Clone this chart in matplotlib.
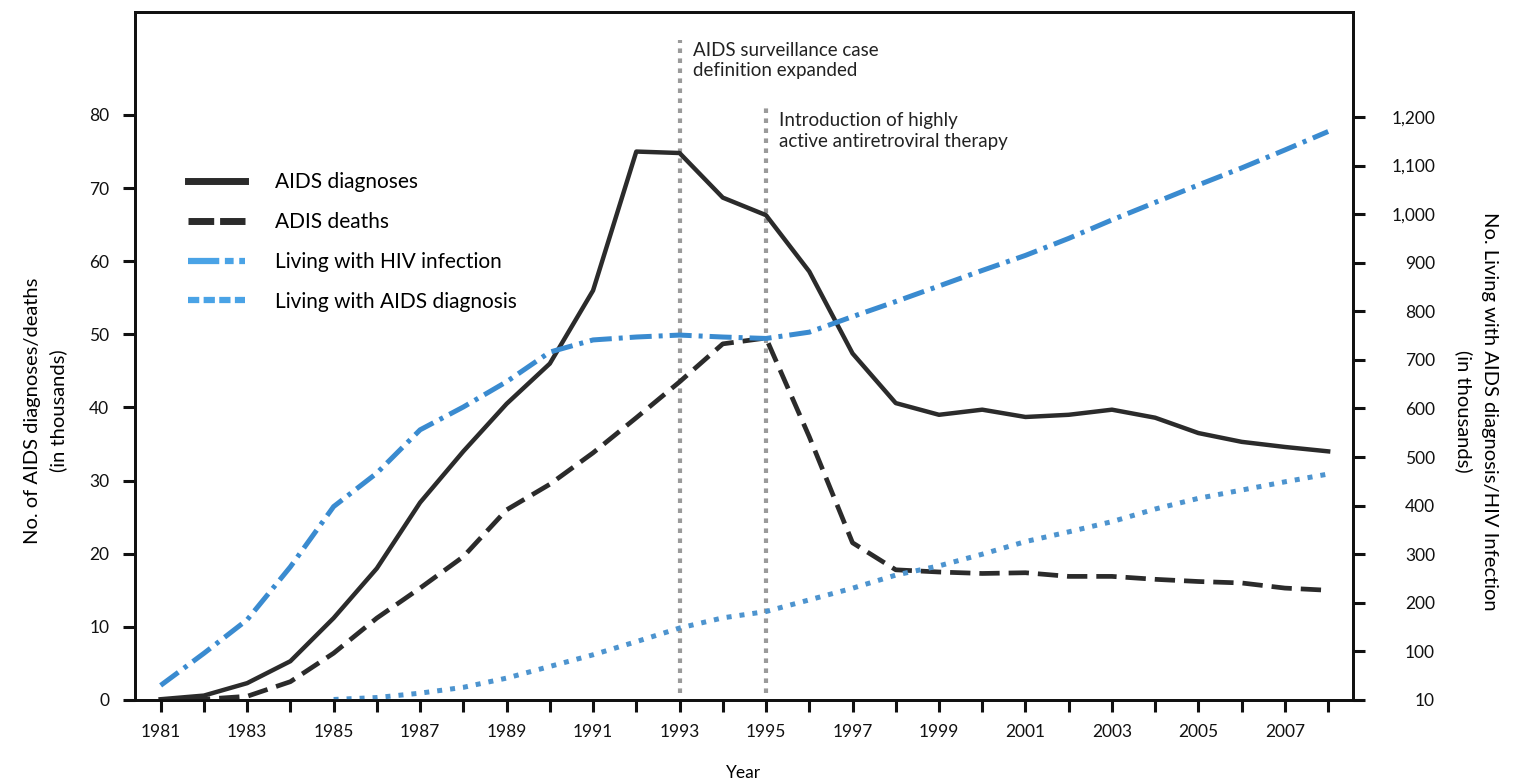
import matplotlib
matplotlib.use('Agg')
import matplotlib.pyplot as plt
from matplotlib.lines import Line2D
import numpy as np

plt.rcParams['font.family'] = ['Lato', 'DejaVu Sans']

YEARS = list(range(1981, 2009))

# left axis, thousands
aids_diagnoses = [0.1, 0.6, 2.3, 5.3, 11.2, 18.0, 27.0, 34.0, 40.5, 46.0, 56.0, 75.0, 74.8, 68.7,
                  66.3, 58.6, 47.4, 40.6, 39.0, 39.7, 38.7, 39.0, 39.7, 38.6, 36.5, 35.3, 34.6, 34.0]
aids_deaths = [0.0, 0.1, 0.5, 2.5, 6.4, 11.2, 15.3, 19.6, 26.0, 29.5, 33.8, 38.6, 43.5, 48.7,
               49.5, 36.0, 21.5, 17.8, 17.5, 17.3, 17.4, 16.9, 16.9, 16.5, 16.2, 16.0, 15.3, 15.0]

# right axis, thousands
living_hiv = [30, 96, 165, 274, 398, 467, 556, 603, 655, 716, 741, 747, 751, 747,
              744, 757, 789, 820, 852, 884, 915, 950, 988, 1024, 1060, 1095, 1132, 1170]
living_aids = [np.nan, np.nan, np.nan, np.nan, 1, 5, 14, 26, 45, 69, 93, 120, 148, 169,
               182, 206, 230, 257, 276, 300, 326, 346, 367, 393, 415, 432, 449, 465]

LEFT_TICKS = [0, 10, 20, 30, 40, 50, 60, 70, 80]
RIGHT_TICKS = [0, 100, 200, 300, 400, 500, 600, 700, 800, 900, 1000, 1100, 1200]
RIGHT_TICK_LABELS = ['10', '100', '200', '300', '400', '500', '600', '700', '800', '900',
                     '1,000', '1,100', '1,200']

EVENT_YEARS = [1993, 1995]
EVENT_TOPS = [90.3, 81.0]
EVENT_TEXT = ['AIDS surveillance case\ndefinition expanded',
              'Introduction of highly\nactive antiretroviral therapy']
EVENT_TEXT_Y = [90.0, 80.4]

BLACK = '#2b2b2b'
BLUE = '#3a8bd0'
BLUE_DOT = '#4d94cf'

fig = plt.figure(figsize=(15.25, 7.82), dpi=100)
ax = fig.add_axes([0.0885, 0.1049, 0.7987, 0.8798])
ax2 = ax.twinx()

ax.vlines(EVENT_YEARS, 1, EVENT_TOPS, colors='#9a9a9a', linewidth=3.0,
          linestyles=[(0, (1.1, 1.3))])
for x, y, txt in zip(EVENT_YEARS, EVENT_TEXT_Y, EVENT_TEXT):
    ax.text(x + 0.3, y, txt, ha='left', va='top', fontsize=13.5, color='#222222',
            linespacing=1.25)

ax.plot(YEARS, aids_diagnoses, color=BLACK, lw=3.2, zorder=3)
ax.plot(YEARS, aids_deaths, color=BLACK, lw=3.4, linestyle=(0, (4.3, 1.9)), zorder=3)
ax2.plot(YEARS, living_hiv, color=BLUE, lw=3.6, linestyle=(0, (4.4, 1.4, 0.8, 1.4)))
ax2.plot(YEARS, living_aids, color=BLUE_DOT, lw=3.6, linestyle=(0, (1.0, 1.6)))

ax.set_xlim(1980.406, 2008.574)
ax.set_ylim(0, 94.09)
ax2.set_ylim(0, 1416)

ax.set_xticks(YEARS)
ax.set_xticklabels([str(y) if y % 2 == 1 else '' for y in YEARS])
ax.set_yticks(LEFT_TICKS)
ax2.set_yticks(RIGHT_TICKS)
ax2.set_yticklabels(RIGHT_TICK_LABELS)

ax.tick_params(axis='x', length=8.6, width=2.2, labelsize=12.5, pad=9, colors='#111111')
ax.tick_params(axis='y', length=8.6, width=2.2, labelsize=12.5, pad=10, colors='#111111')
ax2.tick_params(axis='y', length=8.6, width=2.2, labelsize=12.5, pad=50.5, colors='#111111')
for lab in ax2.get_yticklabels():
    lab.set_horizontalalignment('right')

for a in (ax, ax2):
    for sp in a.spines.values():
        sp.set_linewidth(2.0)
        sp.set_color('#111111')

ax.set_xlabel('Year', fontsize=12.5)
ax.xaxis.set_label_coords(0.5, -0.095)
ax.set_ylabel('No. of AIDS diagnoses/deaths\n(in thousands)', fontsize=14.5, linespacing=1.55)
ax.yaxis.set_label_coords(-0.056, 0.42)
ax2.set_ylabel('No. Living with AIDS diagnosis/HIV Infection\n(in thousands)', fontsize=14.5,
               rotation=270, va='bottom', linespacing=1.55)
ax2.yaxis.set_label_coords(1.084, 0.42)

handles = [
    Line2D([], [], color=BLACK, lw=5),
    Line2D([], [], color=BLACK, lw=5, linestyle=(0, (3.7, 0.85))),
    Line2D([], [], color='#4aa3e6', lw=4.5, linestyle=(0, (5.0, 0.9, 1.4, 0.9))),
    Line2D([], [], color='#4aa3e6', lw=4.5, linestyle=(0, (1.8, 0.7))),
]
labels = ['AIDS diagnoses', 'ADIS deaths', 'Living with HIV infection', 'Living with AIDS diagnosis']
ax2.legend(handles, labels, loc='upper left', bbox_to_anchor=(0.0435, 0.767), frameon=False,
           fontsize=15, handlelength=2.74, handletextpad=1.44, labelspacing=0.95,
           borderpad=0, borderaxespad=0)

fig.savefig('out.png', dpi=100)
